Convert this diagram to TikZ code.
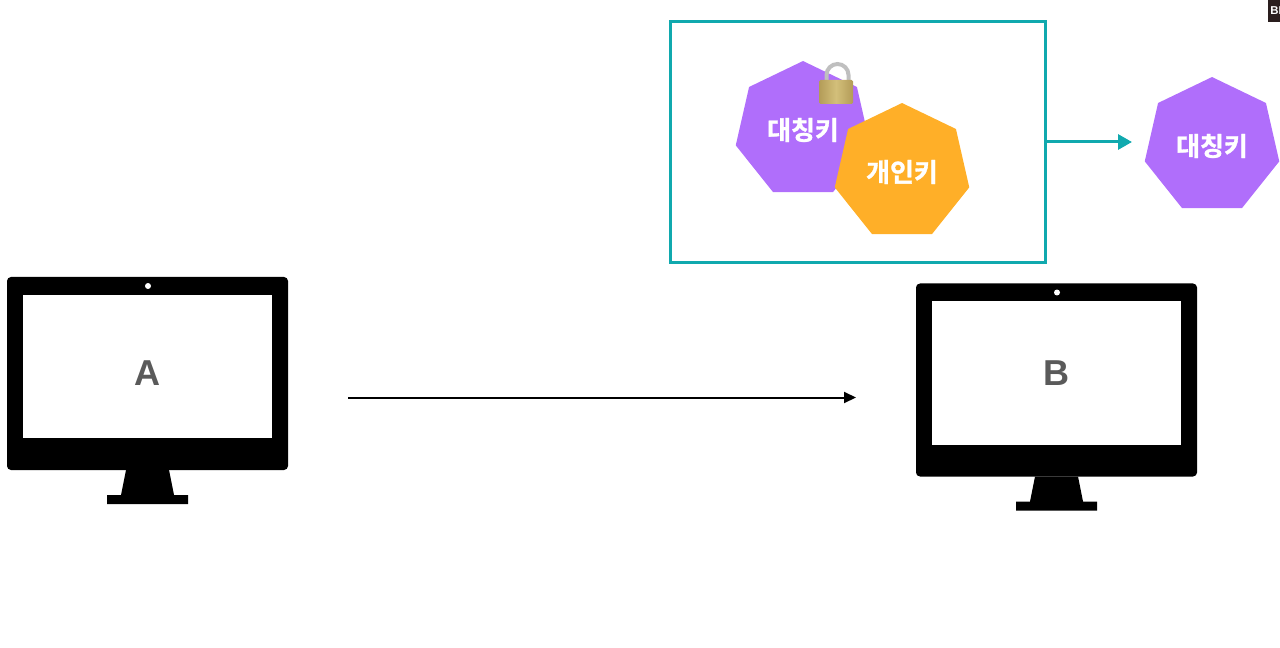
\documentclass[tikz,border=0pt]{standalone}
\usepackage{fontspec}
\setmainfont{Liberation Sans}
\newfontfamily\krfont{Noto Sans CJK KR}[BoldFont={* Bold}, BoldFeatures={FakeBold=1.2}]
\usepackage{xcolor}
\usetikzlibrary{arrows.meta}
\usetikzlibrary{shapes.geometric}
\definecolor{keypurple}{HTML}{B06EFB}
\definecolor{keyorange}{HTML}{FFAF28}
\definecolor{boxteal}{HTML}{10A9AE}
\definecolor{labelgray}{HTML}{5A5A5A}
\definecolor{lockdark}{HTML}{B39C58}
\definecolor{locklight}{HTML}{D3BF7A}
\definecolor{tagdark}{HTML}{2A1E1E}
\tikzset{
	keyshape/.style={regular polygon, regular polygon sides=7, minimum size=2.76cm, inner sep=0pt, text=white, font=\krfont\fontsize{14.8}{17}\bfseries},
	screenlabel/.style={text=labelgray, font=\fontsize{20.5}{24}\bfseries},
	pics/monitor/.style={code={%
			\fill[rounded corners=0.08cm] (7,277) rectangle (288,470);
			\fill (126,470) -- (169,470) -- (174,495) -- (188,495) -- (188,504) -- (107,504) -- (107,495) -- (121,495) -- cycle;
			\fill[white] (23,295) rectangle (272,438);
			\fill[white] (148,286) circle (0.06cm);}}
}

\begin{document}
\begin{tikzpicture}[x=0.02cm, y=-0.02cm]
	\useasboundingbox (0,0) rectangle (1280,648);
	
	% corner tag
	\fill[tagdark] (1268,0) rectangle (1280,22);
	\node[anchor=west, inner sep=0pt, text=white, font=\fontsize{6.5}{8}\bfseries] (tag) at (1270,11) {BB};
	
	% key box
	\node[draw=boxteal, line width=0.06cm, minimum width=7.52cm, minimum height=4.84cm, inner sep=0pt] (keybox) at (858,142) {};
	\node[keyshape, fill=keypurple] (symkey) at (803,130) {대칭키};
	
	% lock
	\draw[line width=0.08cm, color=black!25] (826.5,84) -- (826.5,75) arc (180:360:11 and 11) -- (848.5,84);
	\shade[left color=lockdark, right color=lockdark, middle color=locklight, rounded corners=0.03cm] (819,80) rectangle (853,104);
	
	\node[keyshape, fill=keyorange] (privkey) at (902,172) {개인키};
	
	% right key
	\node[keyshape, fill=keypurple] (symkeyout) at (1212,146) {대칭키};
	\coordinate (keyarrow) at (1132,142);
	\draw[draw=boxteal, line width=0.06cm, -{Triangle[length=0.28cm, width=0.3cm]}] (keybox.east) -- (keyarrow);
	
	% computers
	\path (0,0) pic {monitor};
	\path (909,6.5) pic {monitor};
	\node[screenlabel] (labelA) at (147.5,373) {A};
	\node[screenlabel] (labelB) at (1056.5,373) {B};
	
	% transfer
	\coordinate (sendA) at (348,397.5);
	\coordinate (sendB) at (856,397.5);
	\draw[line width=0.04cm, -{Triangle[length=0.24cm, width=0.22cm]}] (sendA) -- (sendB);
\end{tikzpicture}
\end{document}
